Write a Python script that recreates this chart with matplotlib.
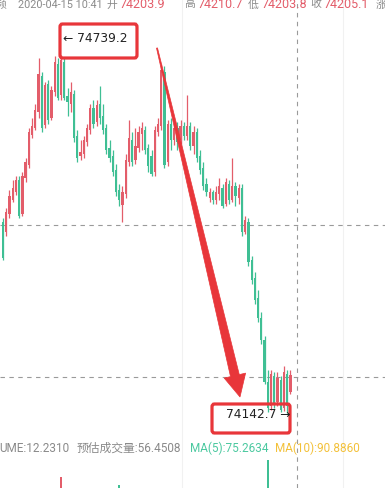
"""
Candlestick screenshot recreation: 1-min K-line with high/low callouts,
a hand-drawn style red arrow and the volume header line.
"""
import numpy as np
import matplotlib

matplotlib.use("Agg")
import matplotlib.pyplot as plt
from matplotlib.patches import FancyBboxPatch, Polygon
from matplotlib.lines import Line2D
from matplotlib.transforms import blended_transform_factory

plt.rcParams["font.family"] = ["Roboto", "Noto Sans CJK SC", "DejaVu Sans"]

# ---------------------------------------------------------------------------
# Data
# ---------------------------------------------------------------------------
opens = [74461, 74444, 74474, 74498, 74511, 74531, 74474, 74534, 74556, 74606,
         74618, 74644, 74704, 74623, 74691, 74634, 74678, 74724, 74673, 74728,
         74671, 74658, 74674, 74604, 74571, 74574, 74594, 74614, 74651, 74628,
         74658, 74638, 74618, 74584, 74571, 74548, 74514, 74489, 74508, 74561,
         74598, 74564, 74584, 74608, 74614, 74584, 74571, 74544, 74611, 74621,
         74711, 74561, 74624, 74598, 74618, 74598, 74621, 74604, 74621, 74588,
         74611, 74571, 74551, 74524, 74501, 74511, 74498, 74508, 74518, 74491,
         74524, 74498, 74521, 74501, 74518, 74444, 74461, 74398, 74368, 74334,
         74301, 74264, 74194, 74154, 74204, 74161, 74198, 74151, 74208, 74178]
closes = [74401, 74478, 74504, 74518, 74531, 74471, 74538, 74561, 74611, 74621,
          74648, 74708, 74618, 74689, 74631, 74681, 74728, 74668, 74731, 74668,
          74661, 74678, 74601, 74568, 74578, 74598, 74618, 74651, 74624, 74656,
          74634, 74614, 74581, 74568, 74544, 74511, 74498, 74511, 74564, 74601,
          74561, 74588, 74611, 74618, 74581, 74554, 74541, 74614, 74624, 74714,
          74556, 74624, 74598, 74618, 74594, 74621, 74604, 74621, 74588, 74611,
          74568, 74548, 74521, 74511, 74511, 74498, 74511, 74521, 74488, 74528,
          74498, 74521, 74504, 74518, 74444, 74464, 74394, 74364, 74331, 74301,
          74264, 74194, 74151, 74208, 74158, 74201, 74148, 74211, 74154, 74205.1]
highs = [74468, 74484, 74514, 74531, 74538, 74538, 74544, 74568, 74618, 74634,
         74658, 74734, 74711, 74694, 74698, 74688, 74738, 74734, 74739.2, 74734,
         74684, 74694, 74681, 74614, 74598, 74604, 74624, 74658, 74664, 74664,
         74688, 74658, 74624, 74598, 74581, 74558, 74524, 74521, 74574, 74631,
         74611, 74618, 74621, 74628, 74621, 74591, 74581, 74621, 74634, 74724,
         74721, 74631, 74634, 74631, 74628, 74631, 74628, 74673, 74628, 74621,
         74618, 74581, 74561, 74534, 74518, 74514, 74521, 74534, 74524, 74534,
         74531, 74568, 74528, 74524, 74524, 74471, 74468, 74404, 74378, 74348,
         74311, 74271, 74214, 74214, 74211, 74211, 74204, 74221, 74214, 74214]
lows = [74398, 74438, 74468, 74494, 74506, 74468, 74471, 74528, 74551, 74601,
        74614, 74634, 74611, 74618, 74624, 74631, 74671, 74664, 74664, 74664,
        74638, 74644, 74594, 74561, 74564, 74568, 74588, 74608, 74618, 74621,
        74624, 74608, 74574, 74561, 74538, 74504, 74488, 74461, 74501, 74554,
        74554, 74558, 74578, 74581, 74574, 74544, 74538, 74538, 74604, 74614,
        74551, 74554, 74581, 74589, 74581, 74591, 74598, 74598, 74581, 74574,
        74561, 74541, 74514, 74504, 74494, 74491, 74491, 74498, 74484, 74488,
        74491, 74494, 74488, 74491, 74438, 74441, 74388, 74358, 74324, 74294,
        74258, 74191, 74144, 74148, 74151, 74154, 74144, 74146, 74142.7, 74174]

# only the tops of three volume bars show above the bottom edge
vol_index = [18, 36, 82]
vol_values = [253, 200, 367]

level_lines = [74456, 74202.5]
cursor_index = 91

header_items = [("频", "grey"), ("2020-04-15 10:41", "grey"), ("开", "grey"),
                ("74203.9", "red"), ("高", "grey"), ("74210.7", "red"),
                ("低", "grey"), ("74203.8", "red"), ("收", "grey"),
                ("74205.1", "red"), ("涨", "grey")]
header_x = [-4, 18, 106, 120, 184, 198, 248, 262, 310, 323, 376]

vol_items = [("UME:12.2310", "grey"), ("预估成交量:56.4508", "grey"),
             ("MA(5):75.2634", "teal"), ("MA(10):90.8860", "yellow")]
vol_x = [-1, 77, 190, 275]

RED = "#e35d6a"
GREEN = "#3fbf94"
PALETTE = {"grey": "#8a8a8a", "red": RED, "teal": "#4cc9a0", "yellow": "#f3c13a"}
MARK = "#e8363a"

# ---------------------------------------------------------------------------
# Figure / axes
# ---------------------------------------------------------------------------
W, H = 385, 488
fig = plt.figure(figsize=(W / 100, H / 100), dpi=100)
fig.patch.set_facecolor("white")


def fx(px):
    return px / W


def fy(py):
    return 1 - py / H


XLIM = (-0.93, 118.3)
ax = fig.add_axes([0, fy(440), 1, 440 / H])
ax.set_xlim(*XLIM)
ax.set_ylim(74097.5, 74830.8)
ax.axis("off")

# faint background grid
for gx in (182, 343):
    fig.add_artist(Line2D([fx(gx)] * 2, [0, 1], transform=fig.transFigure,
                          color="#f1f1f1", lw=0.8, zorder=0))

# candles
x = np.arange(len(opens))
o = np.array(opens)
c = np.array(closes)
colors = np.where(c >= o, RED, GREEN)
ax.vlines(x, lows, highs, colors=colors, lw=0.9, zorder=2)
ax.bar(x, np.maximum(np.abs(c - o), 1.2), bottom=np.minimum(o, c),
       width=0.7, color=colors, linewidth=0, zorder=3)

# dashed level lines + cursor
for lvl in level_lines:
    ax.axhline(lvl, color="#9a9a9a", lw=0.8, ls=(0, (4, 4)), zorder=1)
btrans = blended_transform_factory(ax.transData, fig.transFigure)
fig.add_artist(Line2D([cursor_index] * 2, [0, 1], transform=btrans,
                      color="#9a9a9a", lw=0.8, ls=(0, (4, 4)), zorder=1))

# volume strip (mostly cut off by the bottom edge)
vax = fig.add_axes([0, 0, 1, 33 / H])
vax.set_xlim(*XLIM)
vax.set_ylim(180, 400)
vax.axis("off")
vax.bar(vol_index, vol_values, width=0.7,
        color=[colors[i] for i in vol_index], linewidth=0)

# header line (half cut by the top edge, as in the screenshot)
for (txt, col), px in zip(header_items, header_x):
    size = 9 if col == "red" else 7.8
    fig.text(fx(px), fy(7.5), txt, color=PALETTE[col], fontsize=size,
             ha="left", va="baseline")

# volume legend line
for (txt, col), px in zip(vol_items, vol_x):
    fig.text(fx(px), fy(452), txt, color=PALETTE[col], fontsize=8.5,
             ha="left", va="baseline")

# ---------------------------------------------------------------------------
# Red callouts
# ---------------------------------------------------------------------------
def red_box(x0, y0, x1, y1):
    fig.add_artist(FancyBboxPatch(
        (fx(x0), fy(y1)), fx(x1) - fx(x0), fy(y0) - fy(y1),
        boxstyle="round,pad=0,rounding_size=0.006", transform=fig.transFigure,
        facecolor="none", edgecolor=MARK, lw=2.3, zorder=5))


red_box(60, 24, 137, 58)
fig.text(fx(63), fy(39), "\u2190 74739.2", color="#222222", fontsize=8.8,
         ha="left", va="center", family=["DejaVu Sans"], zorder=6)

red_box(212, 404, 290, 433)
fig.text(fx(226), fy(414), "74142.7 \u2192", color="#222222", fontsize=8.8,
         ha="left", va="center", family=["DejaVu Sans"], zorder=6)

# tapered arrow (pixel outline)
arrow_px = [(156.5, 48.1), (157.5, 47.9), (239.3, 374.6), (245.6, 373.1),
            (240.0, 397.0), (224.2, 378.1), (230.5, 376.6)]
fig.add_artist(Polygon([(fx(a), fy(b)) for a, b in arrow_px], closed=True,
                       transform=fig.transFigure, facecolor=MARK,
                       edgecolor=MARK, lw=0.5, zorder=6))

fig.savefig("out.png", dpi=100)
plt.close(fig)
